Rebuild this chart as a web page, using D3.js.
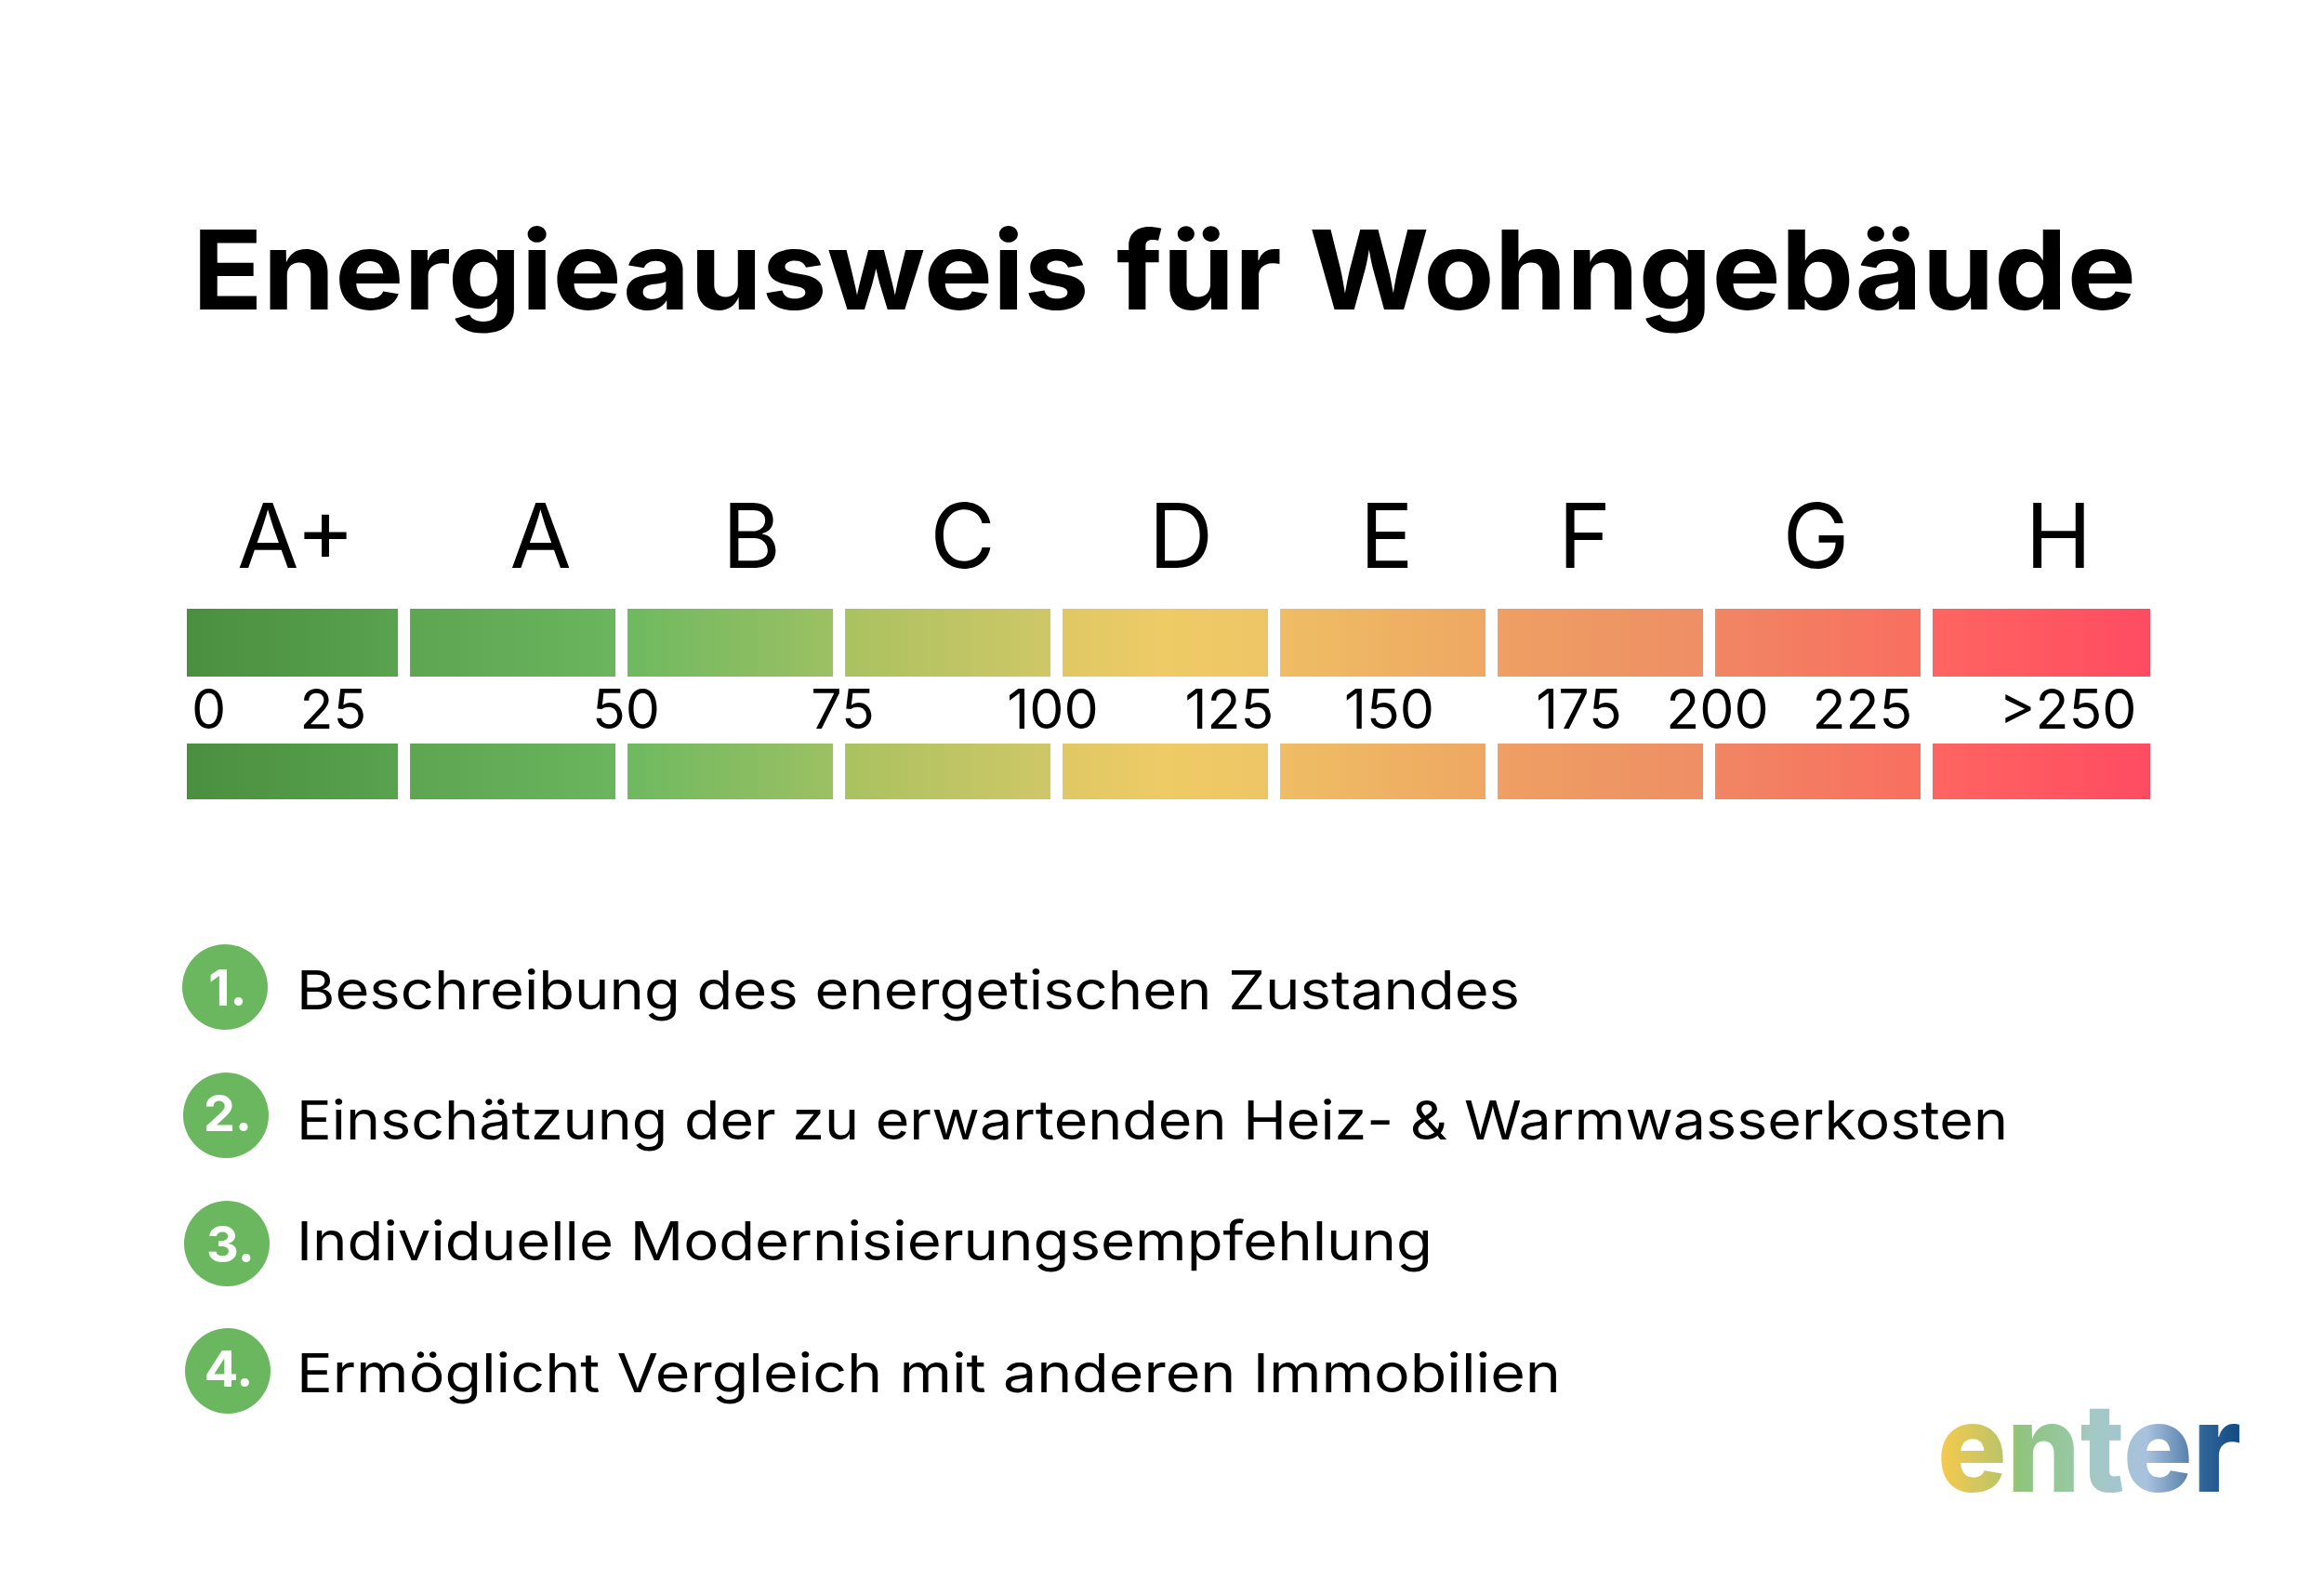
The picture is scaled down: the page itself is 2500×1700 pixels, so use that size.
<!DOCTYPE html>
<html>
<head>
<meta charset="utf-8">
<script src="https://cdn.jsdelivr.net/npm/d3@7"></script>
<style>
body{margin:0;background:#fff;}
svg{display:block;}
text{font-family:Inter,"Noto Sans",sans-serif;fill:#000;}
</style>
</head>
<body>
<svg id="chart" width="2500" height="1700"></svg>
<script>
// energy classes and how wide each one is drawn (A+ a bit wider than the rest)
var classes = ["A+","A","B","C","D","E","F","G","H"]
var classSpans = [1.026,1,1,1,1,1,1,1,1]
var classLabelX = [318,581,808,1035,1270,1491,1704,1953,2214]

// kWh ticks between the two strips, they are not evenly spaced in the original
var tickValues = [0,25,50,75,100,125,150,175,200,225,250]
var tickLabelX = [224,358,673,906,1132,1322,1494,1698,1847,2003,2224]

// one gradient runs across all the bars
var gradientOffsets = [0,0.108,0.114,0.218,0.224,0.329,0.335,0.44,0.446,0.5,0.551,0.557,0.661,0.668,0.772,0.778,0.883,0.889,1]
var gradientColors = ["#4a8f3f","#59a24e","#5ea552","#6bb55e","#6eb960","#9cc063","#aac260","#cfc767","#e0c865","#eecb65","#eec566","#eebd64","#eea863","#ef9f63","#ee8f65","#f08663","#f96f60","#fe6561","#ff4b61"]

var items = [
"Beschreibung des energetischen Zustandes",
"Einschätzung der zu erwartenden Heiz- & Warmwasserkosten",
"Individuelle Modernisierungsempfehlung",
"Ermöglicht Vergleich mit anderen Immobilien"
]
var itemLengths = [1316,1841,1222,1360]
var itemBaselines = [1086,1226,1356,1498]
var circleX = [242,243,244,245]
var circleY = [1062,1200,1338,1475]
var numberX = [245,245,248,246]
var numberY = [1082,1217,1358,1492]

var logoOffsets = [0,0.23,0.26,0.45,0.5,0.6,0.69,0.83,0.88,1]
var logoColors = ["#f6ca4d","#b5c46b","#8fc47d","#98c8a5","#a3c9c3","#a3c5d0","#a9c1de","#5a82ad","#2f6499","#124b82"]

var svg = d3.select("#chart")
var defs = svg.append("defs")

function addGradient(id,x1,x2,offsets,colors){
    var g = defs.append("linearGradient")
        .attr("id",id)
        .attr("gradientUnits","userSpaceOnUse")
        .attr("x1",x1).attr("x2",x2).attr("y1",0).attr("y2",0)
    g.selectAll("stop").data(offsets).enter().append("stop")
        .attr("offset",function(d){return d})
        .attr("stop-color",function(d,i){return colors[i]})
}
addGradient("scaleGrad",201,2313,gradientOffsets,gradientColors)
addGradient("logoGrad",2087,2409,logoOffsets,logoColors)

// title
svg.append("text")
    .attr("x",207).attr("y",333)
    .attr("textLength",2091).attr("lengthAdjust","spacingAndGlyphs")
    .style("font-size","118px").style("font-weight",700)
    .text("Energieausweis für Wohngebäude")

// bars
var edges = [0].concat(Array.from(d3.cumsum(classSpans)))
var x = d3.scaleLinear().domain([0,d3.sum(classSpans)]).range([201,2313])
var gap = 13
var strips = [{y:655,h:73},{y:800,h:60}]

strips.forEach(function(s){
    svg.append("g").selectAll("rect").data(classes).enter().append("rect")
        .attr("x",function(d,i){return x(edges[i])})
        .attr("width",function(d,i){
            var w = x(edges[i+1])-x(edges[i])
            return i==classes.length-1 ? w : w-gap
        })
        .attr("y",s.y).attr("height",s.h)
        .attr("fill","url(#scaleGrad)")
})

// class letters
var letterScale = d3.scaleOrdinal().domain(classes).range(classLabelX)
var letterAxis = svg.append("g").attr("transform","translate(0,611)")
    .call(d3.axisBottom(letterScale).tickSize(0))
letterAxis.select(".domain").remove()
letterAxis.selectAll("text").attr("y",0).attr("dy",0)
    .style("font-size","96px").style("font-family","Inter").attr("fill","#000")

// ticks
var tickScale = d3.scaleLinear().domain(tickValues).range(tickLabelX)
var tickAxis = svg.append("g").attr("transform","translate(0,784)")
    .call(d3.axisBottom(tickScale).tickValues(tickValues).tickSize(0)
        .tickFormat(function(d){return d==250 ? ">250" : d}))
tickAxis.select(".domain").remove()
tickAxis.selectAll("text").attr("y",0).attr("dy",0)
    .style("font-size","59px").style("font-family","Inter").attr("fill","#000")

// list
svg.append("g").selectAll("circle").data(items).enter().append("circle")
    .attr("cx",function(d,i){return circleX[i]})
    .attr("cy",function(d,i){return circleY[i]})
    .attr("r",46)
    .attr("fill","#6bb75f")

svg.append("g").selectAll("text").data(items).enter().append("text")
    .attr("x",function(d,i){return numberX[i]})
    .attr("y",function(d,i){return numberY[i]})
    .attr("text-anchor","middle")
    .style("font-size","54px").style("font-weight",700).style("fill","#fff")
    .text(function(d,i){return (i+1)+"."})

svg.append("g").selectAll("text").data(items).enter().append("text")
    .attr("x",319)
    .attr("y",function(d,i){return itemBaselines[i]})
    .attr("textLength",function(d,i){return itemLengths[i]})
    .attr("lengthAdjust","spacingAndGlyphs")
    .style("font-size","58px")
    .text(function(d){return d})

// logo
svg.append("text")
    .attr("x",2084).attr("y",1605)
    .attr("textLength",327).attr("lengthAdjust","spacingAndGlyphs")
    .style("font-size","132px").style("font-weight",800)
    .style("fill","url(#logoGrad)")
    .text("enter")
</script>
</body>
</html>
